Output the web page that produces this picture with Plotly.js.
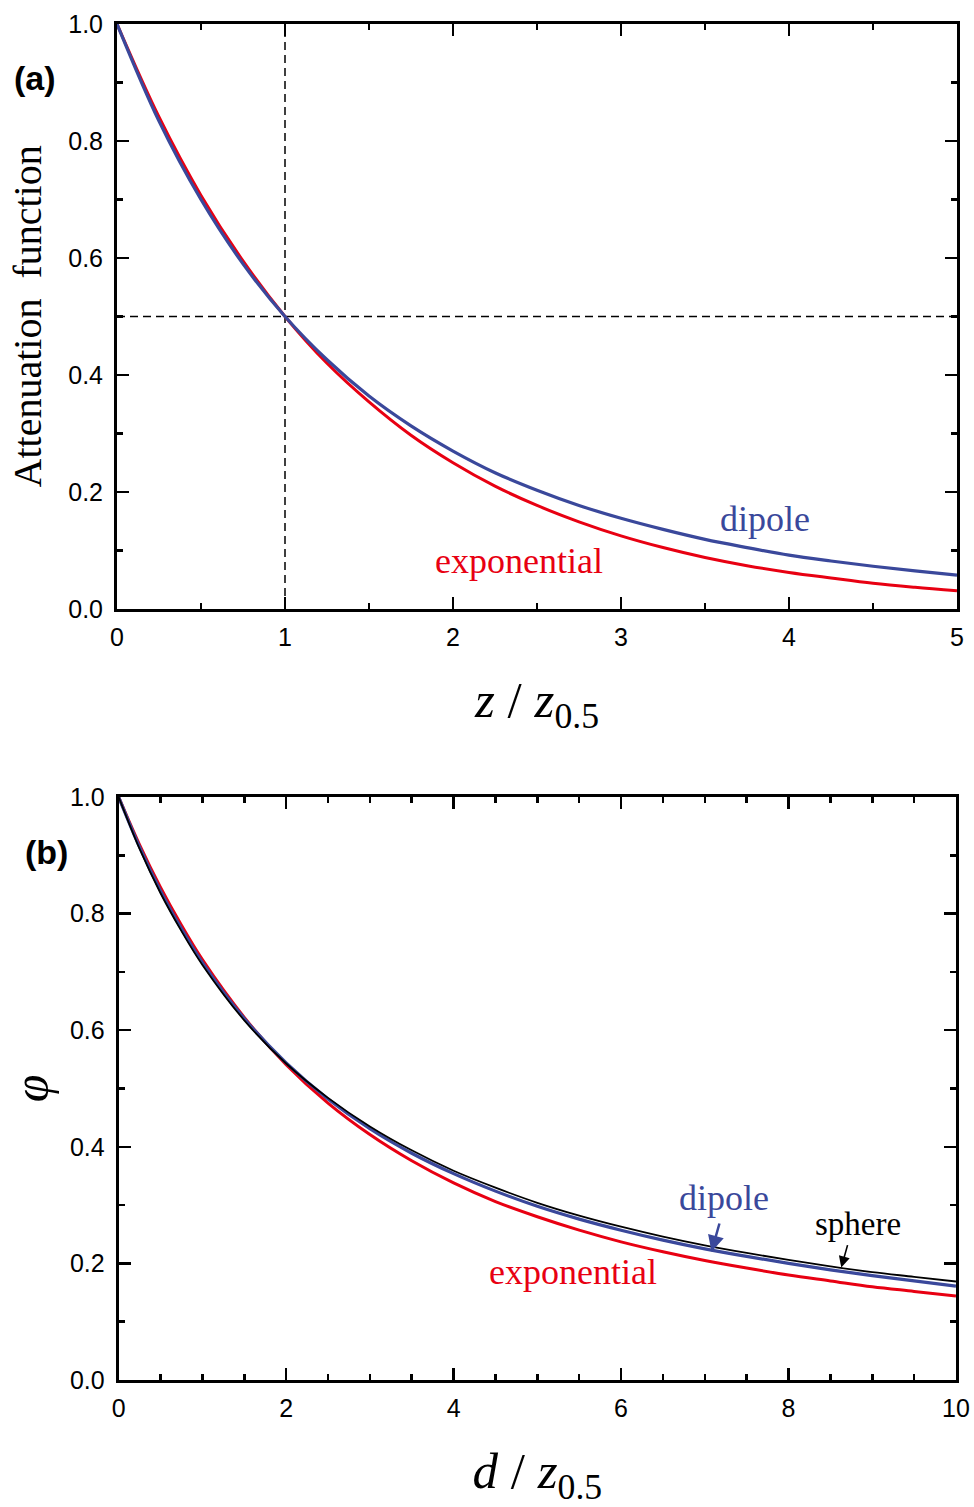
<!DOCTYPE html>
<html>
<head>
<meta charset="utf-8">
<script src="https://cdn.plot.ly/plotly-3.0.1.min.js"></script>
<style>
  html, body { margin: 0; padding: 0; background: #fff; }
  #chart { width: 974px; height: 1507px; }
</style>
</head>
<body>
<div id="chart"></div>
<script>
// ---- Panel (a): attenuation function vs z / z0.5 ----
const zA = [0, 0.25, 0.5, 0.75, 1, 1.25, 1.5, 1.75, 2, 2.25, 2.5, 2.75, 3, 3.25, 3.5, 3.75, 4, 4.25, 4.5, 4.75, 5];
const expA = [1, 0.841, 0.707, 0.595, 0.5, 0.420, 0.354, 0.297, 0.25, 0.210, 0.177, 0.149, 0.125, 0.105, 0.088, 0.074, 0.0625, 0.053, 0.044, 0.037, 0.031];
const dipA = [1, 0.834, 0.700, 0.590, 0.5, 0.426, 0.364, 0.313, 0.270, 0.233, 0.203, 0.177, 0.155, 0.136, 0.119, 0.105, 0.092, 0.082, 0.073, 0.065, 0.058];
// reference (half-value) lines
const refZ = [1];
const refF = [0.5];

// ---- Panel (b): phi vs d / z0.5 ----
const dB = [0, 0.25, 0.5, 0.75, 1, 1.5, 2, 2.5, 3, 3.5, 4, 4.5, 5, 5.5, 6, 6.5, 7, 7.5, 8, 8.5, 9, 9.5, 10];
const expB = [1, 0.918, 0.845, 0.780, 0.721, 0.622, 0.541, 0.475, 0.421, 0.376, 0.338, 0.306, 0.280, 0.257, 0.237, 0.220, 0.205, 0.192, 0.180, 0.170, 0.160, 0.152, 0.144];
const dipB = [1, 0.914, 0.839, 0.774, 0.716, 0.620, 0.544, 0.482, 0.431, 0.389, 0.354, 0.324, 0.298, 0.276, 0.257, 0.240, 0.225, 0.212, 0.200, 0.189, 0.179, 0.170, 0.161];
const sphB = [1, 0.911, 0.835, 0.770, 0.712, 0.617, 0.543, 0.484, 0.435, 0.394, 0.359, 0.330, 0.304, 0.282, 0.263, 0.246, 0.231, 0.218, 0.206, 0.195, 0.185, 0.177, 0.169];

const xTicksA = [0, 1, 2, 3, 4, 5];
const xTicksB = [0, 2, 4, 6, 8, 10];
const yTicks = [0, 0.2, 0.4, 0.6, 0.8, 1.0];

const RED = 'rgb(232,0,18)';
const BLUE = 'rgb(58,72,155)';
const SERIF = '"Liberation Serif", "Times New Roman", serif';
const SANS = '"Liberation Sans", Arial, sans-serif';

const traces = [
  {x: [refZ[0], refZ[0]], y: [0, 1], xaxis: 'x', yaxis: 'y', mode: 'lines',
   line: {color: 'black', width: 1.5, dash: '8px,5px'}, hoverinfo: 'skip'},
  {x: [0, 5], y: [refF[0], refF[0]], xaxis: 'x', yaxis: 'y', mode: 'lines',
   line: {color: 'black', width: 1.5, dash: '8px,5px'}, hoverinfo: 'skip'},
  {x: zA, y: expA, xaxis: 'x', yaxis: 'y', mode: 'lines', name: 'exponential',
   line: {color: RED, width: 3, shape: 'spline'}},
  {x: zA, y: dipA, xaxis: 'x', yaxis: 'y', mode: 'lines', name: 'dipole',
   line: {color: BLUE, width: 3.2, shape: 'spline'}},
  {x: dB, y: expB, xaxis: 'x2', yaxis: 'y2', mode: 'lines', name: 'exponential',
   line: {color: RED, width: 3, shape: 'spline'}},
  {x: dB, y: dipB, xaxis: 'x2', yaxis: 'y2', mode: 'lines', name: 'dipole',
   line: {color: BLUE, width: 3.2, shape: 'spline'}},
  {x: dB, y: sphB, xaxis: 'x2', yaxis: 'y2', mode: 'lines', name: 'sphere',
   line: {color: 'black', width: 1.8, shape: 'spline'}}
];

function axisBase(extra) {
  return Object.assign({
    showgrid: false, zeroline: false, showline: true, linecolor: 'black', linewidth: 3,
    mirror: 'ticks', ticks: 'inside', ticklen: 12, tickwidth: 2.5, tickcolor: 'black',
    tickfont: {family: SANS, size: 25, color: 'black'}
  }, extra);
}
const MINOR = (dt) => ({ticks: 'inside', ticklen: 6, tickwidth: 2.5, tickcolor: 'black', dtick: dt});

const layout = {
  width: 974, height: 1507,
  margin: {l: 117, r: 17, t: 24, b: 127},
  paper_bgcolor: 'white', plot_bgcolor: 'white',
  showlegend: false,
  xaxis: axisBase({
    domain: [0, 1], anchor: 'y', range: [0, 5], tickvals: xTicksA, ticktext: xTicksA.map(String),
    minor: MINOR(0.5), ticklabelstandoff: 4,
    title: {text: '<i>z</i> / <i>z</i><sub>0.5</sub>', font: {family: SERIF, size: 51, color: 'black'}, standoff: 32}
  }),
  yaxis: axisBase({
    domain: [0.5686, 1], anchor: 'x', range: [0, 1], tickvals: yTicks, ticktext: yTicks.map(v => v.toFixed(1)),
    minor: MINOR(0.1), ticklabelstandoff: 6
  }),
  xaxis2: axisBase({
    domain: [0.002, 0.9988], anchor: 'y2', range: [0, 10], tickvals: xTicksB, ticktext: xTicksB.map(String),
    minor: MINOR(0.5), ticklabelstandoff: 4,
    title: {text: '<i>d</i> / <i>z</i><sub>0.5</sub>', font: {family: SERIF, size: 51, color: 'black'}, standoff: 36}
  }),
  yaxis2: axisBase({
    domain: [0, 0.4299], anchor: 'x2', range: [0, 1], tickvals: yTicks, ticktext: yTicks.map(v => v.toFixed(1)),
    minor: MINOR(0.1), ticklabelstandoff: 6,
    title: {text: '<i>φ</i>', font: {family: SERIF, size: 50, color: 'black'}, standoff: 6}
  }),
  annotations: [
    {xref: 'paper', yref: 'paper', x: -0.106, y: 0.7843, text: 'Attenuation\u00a0 function', textangle: -90,
     showarrow: false, font: {family: SERIF, size: 40, color: 'black'}, xanchor: 'center', yanchor: 'middle'},
    {xref: 'paper', yref: 'paper', x: -0.0976, y: 0.9602, text: '<b>(a)</b>', showarrow: false,
     font: {family: SANS, size: 34, color: 'black'}, xanchor: 'center', yanchor: 'middle'},
    {xref: 'paper', yref: 'paper', x: -0.0835, y: 0.3894, text: '<b>(b)</b>', showarrow: false,
     font: {family: SANS, size: 34, color: 'black'}, xanchor: 'center', yanchor: 'middle'},
    {xref: 'x', yref: 'y', x: 3.857, y: 0.154, text: 'dipole', showarrow: false,
     font: {family: SERIF, size: 36, color: BLUE}, xanchor: 'center', yanchor: 'middle'},
    {xref: 'x', yref: 'y', x: 2.393, y: 0.082, text: 'exponential', showarrow: false,
     font: {family: SERIF, size: 36, color: RED}, xanchor: 'center', yanchor: 'middle'},
    {xref: 'x2', yref: 'y2', x: 7.23, y: 0.312, text: 'dipole', showarrow: false,
     font: {family: SERIF, size: 36, color: BLUE}, xanchor: 'center', yanchor: 'middle'},
    {xref: 'x2', yref: 'y2', x: 5.42, y: 0.185, text: 'exponential', showarrow: false,
     font: {family: SERIF, size: 36, color: RED}, xanchor: 'center', yanchor: 'middle'},
    {xref: 'x2', yref: 'y2', x: 8.83, y: 0.268, text: 'sphere', showarrow: false,
     font: {family: SERIF, size: 33, color: 'black'}, xanchor: 'center', yanchor: 'middle'},
    {xref: 'x2', yref: 'y2', x: 7.08, y: 0.220, axref: 'x2', ayref: 'y2', ax: 7.18, ay: 0.271,
     text: '', showarrow: true, arrowhead: 2, arrowsize: 1.3, arrowwidth: 2.5, arrowcolor: BLUE},
    {xref: 'x2', yref: 'y2', x: 8.63, y: 0.193, axref: 'x2', ayref: 'y2', ax: 8.71, ay: 0.234,
     text: '', showarrow: true, arrowhead: 2, arrowsize: 1.4, arrowwidth: 1.6, arrowcolor: 'black'}
  ]
};

Plotly.newPlot('chart', traces, layout, {staticPlot: true, displayModeBar: false});
</script>
</body>
</html>
